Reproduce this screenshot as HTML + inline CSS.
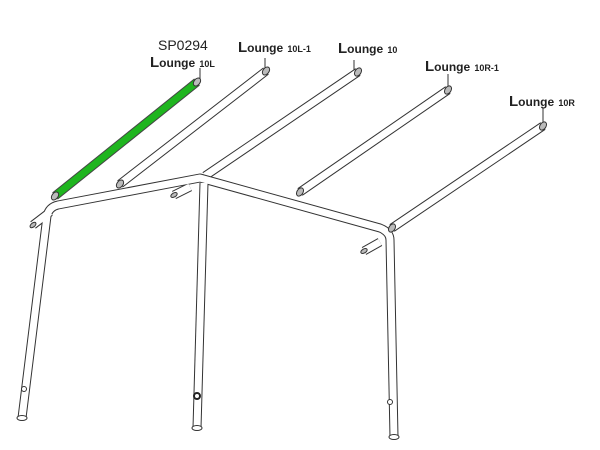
<!DOCTYPE html>
<html><head><style>
html,body{margin:0;padding:0;background:#fff;width:600px;height:450px;overflow:hidden}
text{font-family:"Liberation Sans",Arial,sans-serif;fill:#222}
</style></head><body>
<svg width="600" height="450" viewBox="0 0 600 450" xmlns="http://www.w3.org/2000/svg">
<g fill="none" stroke-linecap="butt" stroke-linejoin="round">
<g stroke="#333" stroke-width="9">
<line x1="120" y1="184" x2="266" y2="71"/>
<line x1="205" y1="176" x2="358" y2="72"/>
<line x1="300" y1="192" x2="448" y2="90"/>
<line x1="392" y1="228" x2="543" y2="126"/>
</g>
<g stroke="#fff" stroke-width="7">
<line x1="120" y1="184" x2="266" y2="71"/>
<line x1="205" y1="176" x2="358" y2="72"/>
<line x1="300" y1="192" x2="448" y2="90"/>
<line x1="392" y1="228" x2="543" y2="126"/>
</g>
<line x1="55" y1="196" x2="197" y2="82" stroke="#444" stroke-width="9"/>
<line x1="55" y1="196" x2="197" y2="82" stroke="#1fb51f" stroke-width="7"/>
<g stroke="#333" stroke-width="9">
<path d="M22 418 L47 216 Q49 207 58 205 L200 178 L380 228 Q390 232 390 240 L394 437"/>
<line x1="204" y1="183" x2="197" y2="428"/>
<line x1="33" y1="225" x2="50" y2="212"/>
<line x1="174" y1="195" x2="190" y2="187"/>
<line x1="364" y1="251" x2="380" y2="242"/>
</g>
<g stroke="#fff" stroke-width="7">
<path d="M22 418 L47 216 Q49 207 58 205 L200 178 L380 228 Q390 232 390 240 L394 437"/>
<line x1="204" y1="183" x2="197" y2="428"/>
<line x1="33" y1="225" x2="50" y2="212"/>
<line x1="174" y1="195" x2="190" y2="187"/>
<line x1="364" y1="251" x2="380" y2="242"/>
</g>
<g stroke="#333" stroke-width="1">
<line x1="200" y1="68" x2="200" y2="80"/>
<line x1="265" y1="58" x2="265" y2="68"/>
<line x1="354" y1="60" x2="354" y2="70"/>
<line x1="448" y1="74" x2="448" y2="88"/>
<line x1="543" y1="108" x2="543" y2="124"/>
</g>
<g stroke="#333" stroke-width="1" fill="#bbb">
<ellipse cx="197" cy="82" rx="3" ry="4.5" transform="rotate(38 197 82)"/>
<ellipse cx="266" cy="71" rx="3" ry="4.5" transform="rotate(38 266 71)"/>
<ellipse cx="358" cy="72" rx="3" ry="4.5" transform="rotate(34 358 72)"/>
<ellipse cx="448" cy="90" rx="3" ry="4.5" transform="rotate(34 448 90)"/>
<ellipse cx="543" cy="126" rx="3" ry="4.5" transform="rotate(34 543 126)"/>
<ellipse cx="55" cy="196" rx="3" ry="4.5" transform="rotate(38 55 196)"/>
<ellipse cx="120" cy="184" rx="3" ry="4.5" transform="rotate(38 120 184)"/>
<ellipse cx="300" cy="192" rx="3" ry="4.5" transform="rotate(34 300 192)"/>
<ellipse cx="392" cy="228" rx="3" ry="4.5" transform="rotate(34 392 228)"/>
<ellipse cx="33" cy="225" rx="2" ry="3.5" transform="rotate(50 33 225)"/>
<ellipse cx="174" cy="195" rx="2" ry="3.5" transform="rotate(60 174 195)"/>
<ellipse cx="364" cy="251" rx="2" ry="3.5" transform="rotate(60 364 251)"/>
</g>
<g stroke="#333" stroke-width="1" fill="#fff">
<ellipse cx="22" cy="418" rx="5" ry="2.5"/>
<ellipse cx="197" cy="428" rx="5" ry="2.5"/>
<ellipse cx="394" cy="437" rx="5" ry="2.5"/>
<circle cx="24" cy="389" r="2.5"/>
<circle cx="390" cy="402" r="2.5"/>
</g>
<circle cx="197" cy="396" r="3" fill="#fff" stroke="#222" stroke-width="2"/>
</g>
<text x="158" y="50" font-size="14">SP0294</text>
<text x="150" y="67" font-size="15" font-weight="bold">L<tspan font-size="12">ounge</tspan> <tspan font-size="9">10L</tspan></text>
<text x="238" y="52" font-size="15" font-weight="bold">L<tspan font-size="12">ounge</tspan> <tspan font-size="9">10L-1</tspan></text>
<text x="338" y="53" font-size="15" font-weight="bold">L<tspan font-size="12">ounge</tspan> <tspan font-size="9">10</tspan></text>
<text x="425" y="71" font-size="15" font-weight="bold">L<tspan font-size="12">ounge</tspan> <tspan font-size="9">10R-1</tspan></text>
<text x="509" y="106" font-size="15" font-weight="bold">L<tspan font-size="12">ounge</tspan> <tspan font-size="9">10R</tspan></text>
</svg>
</body></html>
